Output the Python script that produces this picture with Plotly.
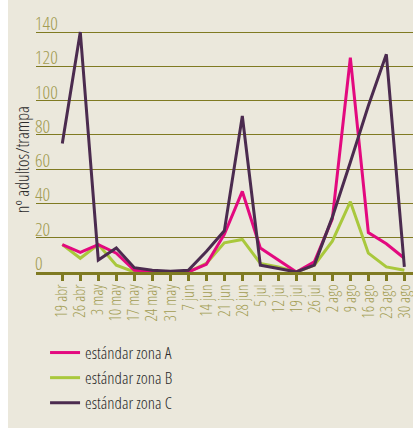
import plotly.graph_objects as go

fechas = ["19 abr", "26 abr", "3 may", "10 may", "17 may", "24 may", "31 may",
          "7 jun", "14 jun", "21 jun", "28 jun", "5 jul", "12 jul", "19 jul",
          "26 jul", "2 ago", "9 ago", "16 ago", "23 ago", "30 ago"]
zona_a = [16, 11.5, 16, 11, 1, 0.5, 0, 0, 4.5, 22, 47, 14, 7, 0, 6, 31, 125, 23, 16.5, 8]
zona_b = [16, 8, 16, 4, 0, 0, 0, 0, 5, 17, 19, 5, 3, 0, 4, 18, 41, 11, 3, 1]
zona_c = [75, 140, 7, 14, 2.5, 1, 0.5, 1, 12, 24, 91, 4, 2, 0, 4, 32, 64, 97, 127, 3]
series_names = ["estándar zona A", "estándar zona B", "estándar zona C"]
y_ticks = [0, 20, 40, 60, 80, 100, 120, 140]

FONT = "Open Sans Condensed Light, DejaVu Sans Condensed, sans-serif"
OLIVE = "#7f7a22"
LABEL = "#a29c52"
BG = "#ebe8dc"
COLORS = ["#e3097f", "#a9c83c", "#4b2b4f"]

xs = list(range(len(fechas)))

fig = go.Figure()
# draw green first, then magenta, then purple on top; legend order A, B, C
for idx in [1, 0, 2]:
    vals = [zona_a, zona_b, zona_c][idx]
    fig.add_trace(go.Scatter(x=xs, y=vals, mode="lines", name=series_names[idx],
                             legendrank=idx + 1,
                             line=dict(color=COLORS[idx], width=3)))

annotations = []
for v in y_ticks:
    annotations.append(dict(x=0, xref="paper", y=v, yref="y", text=str(v),
                            showarrow=False, xanchor="left", yanchor="bottom",
                            xshift=-3, yshift=-6,
                            font=dict(family=FONT, size=19, color=LABEL, weight=300)))
annotations.append(dict(x=-0.037, xref="paper", y=0.444, yref="paper",
                        text="nº adultos/trampa", textangle=-90, showarrow=False,
                        xanchor="center", yanchor="middle",
                        font=dict(family=FONT, size=18, color="#2a2a2a", weight=300)))

fig.update_layout(
    width=413, height=428,
    margin=dict(l=36, r=0, t=20, b=156),
    paper_bgcolor=BG, plot_bgcolor=BG,
    showlegend=True,
    legend=dict(x=0.024, y=-0.25, xanchor="left", yanchor="top",
                bgcolor="rgba(0,0,0,0)", traceorder="normal",
                font=dict(family=FONT, size=17, color="#2a2a2a", weight=300),
                itemwidth=30, tracegroupgap=0),
    annotations=annotations,
    shapes=[dict(type="rect", xref="paper", yref="paper",
                 x0=-36/377, x1=-28/377, y0=-156/252, y1=1 + 20/252,
                 fillcolor="white", line=dict(width=0), layer="below")],
    xaxis=dict(range=[-1.46, 19.48], tickmode="array", tickvals=xs,
               ticktext=fechas, tickangle=-90, showgrid=False, zeroline=False,
               showline=True, linecolor=OLIVE, linewidth=3, automargin=False,
               ticks="outside", ticklen=6, tickwidth=2.5, tickcolor=OLIVE,
               ticklabelstandoff=-3, ticklabeloverflow="allow",
               tickfont=dict(family=FONT, size=16, color=LABEL, weight=300)),
    yaxis=dict(range=[0, 147], tickvals=y_ticks, showticklabels=False,
               automargin=False,
               showgrid=True, gridcolor=OLIVE, gridwidth=1.2, zeroline=False),
)

fig.write_html("out.html", config={"displayModeBar": False},
               post_script="document.body.style.margin='0';document.body.style.background='#ebe8dc';")
